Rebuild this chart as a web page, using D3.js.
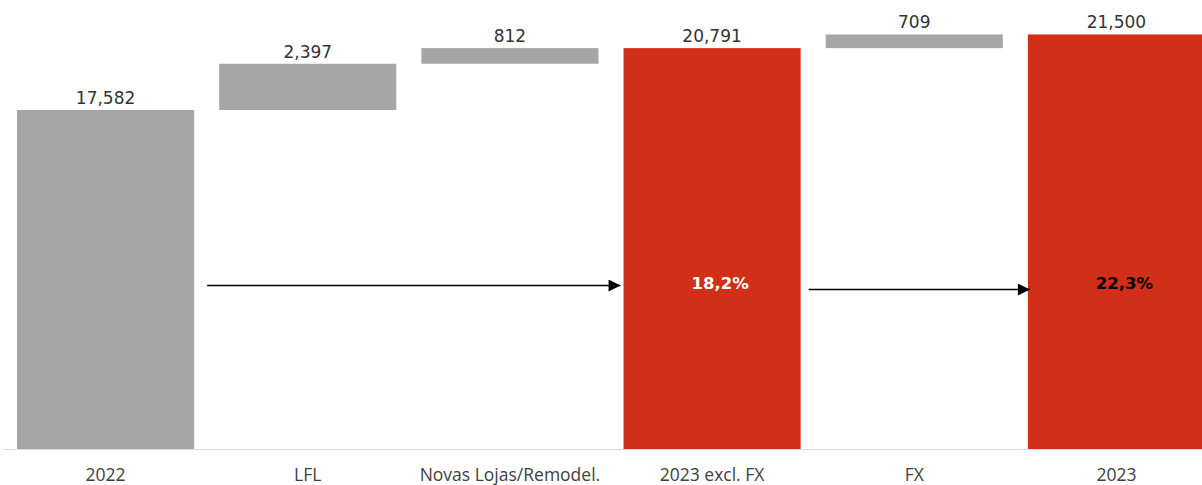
<!DOCTYPE html>
<html>
<head>
<meta charset="utf-8">
<script src="https://cdn.jsdelivr.net/npm/d3@7"></script>
<style>
  body { margin: 0; background: #fff; }
  svg { display: block; }
  .val { font-family: "DejaVu Sans", sans-serif; font-size: 17px; fill: #333; }
  .cat { font-family: "Open Sans", sans-serif; font-size: 17.5px; fill: #404040; }
  .pct { font-family: "DejaVu Sans", sans-serif; font-size: 16.5px; font-weight: bold; }
</style>
</head>
<body>
<div id="chart"></div>
<script>
var categories = ["2022", "LFL", "Novas Lojas/Remodel.", "2023 excl. FX", "FX", "2023"];
var values = [17582, 2397, 812, 20791, 709, 21500];
var isTotal = [true, false, false, true, false, true];
var valueLabels = ["17,582", "2,397", "812", "20,791", "709", "21,500"];
var pctLabels = [null, null, null, "18,2%", null, "22,3%"];

var svgWidth = 1202, svgHeight = 485;
var baseY = 449;

var svg = d3.select("#chart").append("svg")
  .attr("width", svgWidth)
  .attr("height", svgHeight);

var x = d3.scaleBand()
  .domain(categories)
  .range([4.5, 1217.5])
  .paddingInner(0.124)
  .paddingOuter(0.062);

var y = d3.scaleLinear()
  .domain([0, 23287])
  .range([baseY, 0]);

// running waterfall
var running = 0;
var data = categories.map(function(c, i) {
  var lo, hi;
  if (isTotal[i]) { lo = 0; hi = values[i]; running = values[i]; }
  else { lo = running; hi = running + values[i]; running = hi; }
  return { cat: c, lo: lo, hi: hi, total: isTotal[i], label: valueLabels[i], pct: pctLabels[i] };
});

var red = "#d12f17", gray = "#a6a6a6";

svg.selectAll("rect.bar")
  .data(data)
  .enter()
  .append("rect")
  .attr("class", "bar")
  .attr("x", d => x(d.cat))
  .attr("width", x.bandwidth())
  .attr("y", d => y(d.hi))
  .attr("height", d => y(d.lo) - y(d.hi))
  .attr("fill", (d, i) => (d.total && i > 0) ? red : gray);

// baseline
svg.append("line")
  .attr("x1", 3).attr("x2", svgWidth)
  .attr("y1", baseY + 0.5).attr("y2", baseY + 0.5)
  .attr("stroke", "#d9d9d9")
  .attr("stroke-width", 1);

svg.selectAll("text.val")
  .data(data)
  .enter()
  .append("text")
  .attr("class", "val")
  .attr("x", d => x(d.cat) + x.bandwidth() / 2)
  .attr("y", d => y(d.hi) - 6)
  .attr("text-anchor", "middle")
  .text(d => d.label);

svg.selectAll("text.cat")
  .data(data)
  .enter()
  .append("text")
  .attr("class", "cat")
  .attr("x", d => x(d.cat) + x.bandwidth() / 2)
  .attr("y", 481)
  .attr("text-anchor", "middle")
  .text(d => d.cat);

// arrows
var defs = svg.append("defs");
defs.append("marker")
  .attr("id", "arrow")
  .attr("viewBox", "0 0 10 10")
  .attr("refX", 10).attr("refY", 5)
  .attr("markerWidth", 14).attr("markerHeight", 12)
  .attr("markerUnits", "userSpaceOnUse")
  .attr("orient", "auto")
  .append("path")
  .attr("d", "M0,0 L10,5 L0,10 Z")
  .attr("fill", "#000");

var arrows = [
  { from: "2022", to: "2023 excl. FX", y: 285.5, gapStart: 13, gapEnd: -3 },
  { from: "2023 excl. FX", to: "2023", y: 289.5, gapStart: 8, gapEnd: 2 }
];
svg.selectAll("line.arrow")
  .data(arrows)
  .enter()
  .append("line")
  .attr("class", "arrow")
  .attr("x1", d => x(d.from) + x.bandwidth() + d.gapStart)
  .attr("x2", d => x(d.to) + d.gapEnd)
  .attr("y1", d => d.y).attr("y2", d => d.y)
  .attr("stroke", "#000")
  .attr("stroke-width", 1.3)
  .attr("marker-end", "url(#arrow)");

svg.selectAll("text.pct")
  .data(data.filter(d => d.pct))
  .enter()
  .append("text")
  .attr("class", "pct")
  .attr("x", d => x(d.cat) + x.bandwidth() / 2 + 8)
  .attr("y", 289)
  .attr("text-anchor", "middle")
  .attr("fill", d => d.cat === "2023" ? "#000" : "#fff")
  .text(d => d.pct);
</script>
</body>
</html>
